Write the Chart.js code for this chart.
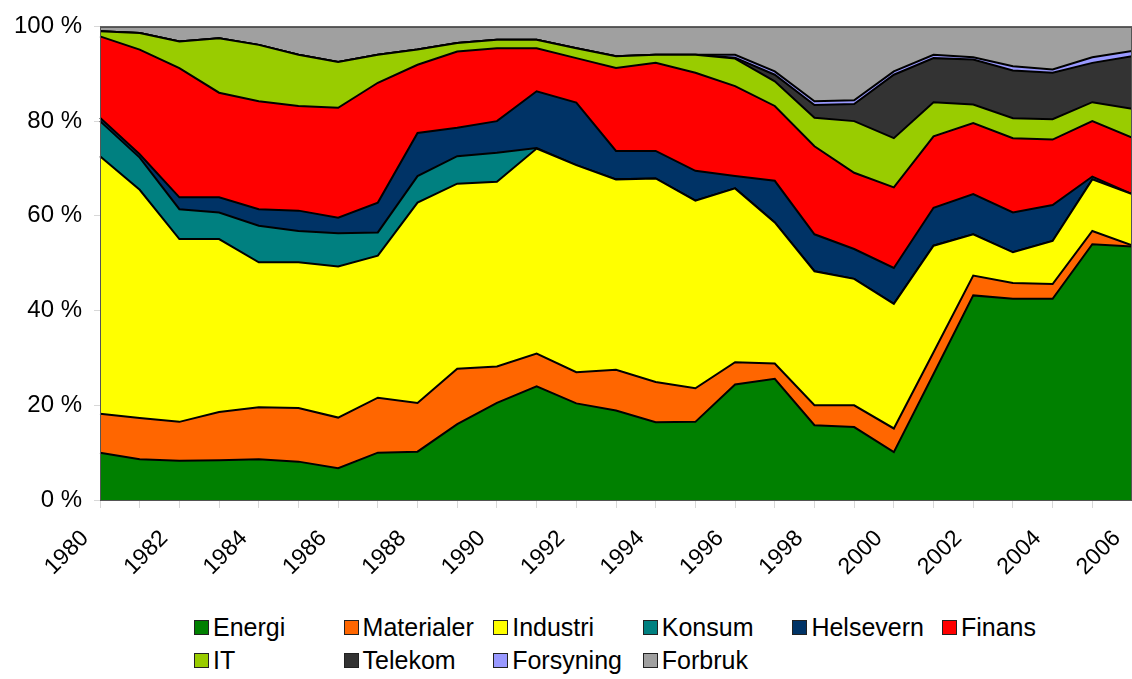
<!DOCTYPE html>
<html lang="no">
<head>
  <meta charset="UTF-8" />
  <title>Sektorfordeling 1980-2006</title>
  <script src="https://cdn.jsdelivr.net/npm/chart.js"></script>
  <style>
    html, body { margin: 0; padding: 0; background: #fff; overflow: hidden; }
    body { font-family: Arial, "Liberation Sans", sans-serif; width: 1132px; height: 679px; position: relative; }
    #wrap { position: absolute; left: 0; top: 0; width: 1132px; height: 600px; }
    #legend {
      position: absolute; left: 194px; top: 611px;
      display: grid; grid-template-columns: repeat(6, 149.6px); grid-auto-rows: 33px;
      font-size: 25px; color: #000;
    }
    .item { display: flex; align-items: center; white-space: nowrap; }
    .box { width: 13px; height: 13px; border: 1px solid #222; margin-right: 4px; flex: none; }
  </style>
</head>
<body>
  <div id="wrap"><canvas id="chart" width="1132" height="600"></canvas></div>
  <div id="legend"></div>

<script>
  const years = ['1980', '1981', '1982', '1983', '1984', '1985', '1986', '1987', '1988', '1989',
    '1990', '1991', '1992', '1993', '1994', '1995', '1996', '1997', '1998', '1999',
    '2000', '2001', '2002', '2003', '2004', '2005', '2006'];

  const energi     = [10.0, 8.6, 8.3, 8.4, 8.6, 8.1, 6.7, 10.0, 10.2, 16.0, 20.5, 24.0, 20.4, 18.9, 16.4, 16.5, 24.4, 25.6, 15.8, 15.4, 10.1, 26.6, 43.2, 42.5, 42.5, 54.0, 53.5];
  const materialer = [8.2, 8.7, 8.2, 10.2, 11.0, 11.3, 10.7, 11.6, 10.3, 11.7, 7.7, 6.9, 6.6, 8.6, 8.5, 7.1, 4.7, 3.2, 4.2, 4.6, 5.0, 4.6, 4.2, 3.3, 3.1, 2.8, 0.3];
  const industri   = [54.4, 48.2, 38.6, 36.5, 30.6, 30.8, 31.9, 30.0, 42.3, 39.1, 39.0, 43.3, 43.7, 40.2, 43.0, 39.6, 36.7, 29.8, 28.3, 26.7, 26.3, 22.5, 8.7, 6.5, 9.1, 10.9, 10.8];
  const konsum     = [7.4, 6.8, 6.3, 5.6, 7.7, 6.6, 7.0, 4.9, 5.6, 5.8, 6.1, 0.1, 0, 0, 0, 0, 0, 0, 0, 0, 0, 0, 0, 0, 0, 0, 0];
  const helsevern  = [0.7, 0.7, 2.5, 3.2, 3.5, 4.3, 3.3, 6.3, 9.1, 6.0, 6.7, 12.0, 13.2, 6.0, 5.8, 6.3, 2.6, 8.8, 7.8, 6.3, 7.6, 8.0, 8.5, 8.4, 7.6, 0.6, 0];
  const finans     = [17.2, 22.1, 27.3, 22.1, 22.8, 22.1, 23.2, 25.3, 14.4, 16.1, 15.4, 9.1, 9.4, 17.5, 18.6, 20.7, 19.0, 15.8, 18.6, 16.1, 17.0, 15.1, 15.0, 15.7, 13.8, 11.7, 11.9];
  const it         = [1.1, 3.5, 5.6, 11.5, 11.9, 10.8, 9.7, 5.9, 3.2, 1.8, 1.8, 1.8, 2.1, 2.5, 1.7, 3.8, 5.8, 5.2, 6.0, 10.9, 10.4, 7.2, 3.9, 4.2, 4.3, 4.0, 6.1];
  const telekom    = [0, 0, 0, 0, 0, 0, 0, 0, 0, 0, 0, 0, 0, 0, 0, 0, 0.2, 1.4, 2.7, 3.6, 13.4, 9.3, 9.5, 10.1, 9.8, 8.3, 11.1];
  const forsyning  = [0, 0, 0, 0, 0, 0, 0, 0, 0, 0, 0, 0, 0, 0, 0, 0, 0.6, 0.7, 0.8, 0.8, 0.7, 0.7, 0.5, 0.9, 0.7, 1.2, 1.1];
  const forbruk    = [1.0, 1.4, 3.2, 2.5, 3.9, 6.0, 7.5, 6.0, 4.9, 3.5, 2.8, 2.8, 4.6, 6.3, 6.0, 6.0, 6.0, 9.5, 15.8, 15.6, 9.5, 6.0, 6.5, 8.4, 9.1, 6.5, 5.2];

  const yTicks = [0, 20, 40, 60, 80, 100];

  const series = [
    { label: 'Energi', data: energi, color: '#008000' },
    { label: 'Materialer', data: materialer, color: '#ff6600' },
    { label: 'Industri', data: industri, color: '#ffff00' },
    { label: 'Konsum', data: konsum, color: '#008080' },
    { label: 'Helsevern', data: helsevern, color: '#003366' },
    { label: 'Finans', data: finans, color: '#ff0000' },
    { label: 'IT', data: it, color: '#99cc00' },
    { label: 'Telekom', data: telekom, color: '#333333' },
    { label: 'Forsyning', data: forsyning, color: '#9999ff' },
    { label: 'Forbruk', data: forbruk, color: '#a0a0a0' }
  ];

  // 100 % stacked: scale each year so the sectors add up to 100
  const totals = years.map((_, i) => series.reduce((s, d) => s + d.data[i], 0));

  const datasets = series.map((s, k) => ({
    label: s.label,
    data: s.data.map((v, i) => v / totals[i] * 100),
    backgroundColor: s.color,
    borderColor: '#000',
    borderWidth: 2,
    pointRadius: 0,
    tension: 0,
    fill: k === 0 ? 'origin' : '-1'
  }));

  const plotBorder = {
    id: 'plotBorder',
    afterDraw(chart) {
      const { ctx, chartArea: a } = chart;
      ctx.save();
      ctx.strokeStyle = '#555';
      ctx.lineWidth = 1;
      ctx.strokeRect(a.left + 0.5, a.top + 0.5, a.right - a.left - 1, a.bottom - a.top);
      ctx.restore();
    }
  };

  new Chart(document.getElementById('chart'), {
    type: 'line',
    data: { labels: years, datasets },
    plugins: [plotBorder],
    options: {
      responsive: false,
      animation: false,
      layout: { padding: { top: 25, right: 0, left: 0, bottom: 0 } },
      plugins: { legend: { display: false }, tooltip: { enabled: false } },
      scales: {
        x: {
          offset: false,
          grid: { drawOnChartArea: false, color: '#d8d8d8', tickLength: 8 },
          border: { display: false },
          ticks: {
            autoSkip: false, maxRotation: 45, minRotation: 45,
            labelOffset: -15, padding: 17,
            color: '#000', font: { family: 'Arial, "Liberation Sans"', size: 23 },
            callback: (v, i) => (i % 2 === 0 ? years[i] : '')
          },
          afterFit(scale) { scale.height = 100; scale.paddingLeft = 0; scale.paddingRight = 0; }
        },
        y: {
          stacked: true, min: 0, max: 100,
          grid: { drawOnChartArea: false, color: '#d8d8d8', tickLength: 6 },
          border: { display: false },
          afterBuildTicks(scale) { scale.ticks = yTicks.map(v => ({ value: v })); },
          ticks: {
            padding: 12, color: '#000',
            font: { family: 'Arial, "Liberation Sans"', size: 24 },
            callback: v => v + ' %'
          },
          afterFit(scale) { scale.width = 100; }
        }
      }
    }
  });

  const legend = document.getElementById('legend');
  series.forEach(s => {
    const item = document.createElement('div');
    item.className = 'item';
    item.innerHTML = `<span class="box" style="background:${s.color}"></span>${s.label}`;
    legend.appendChild(item);
  });
</script>
</body>
</html>
